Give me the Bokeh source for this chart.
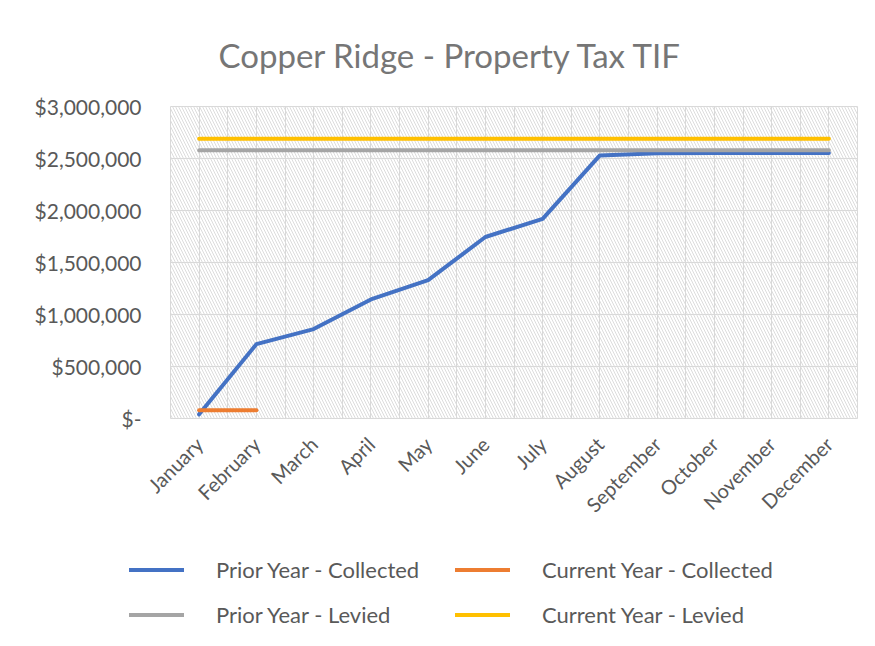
from bokeh.plotting import figure
from bokeh.layouts import column, row
from bokeh.models import (FixedTicker, BoxAnnotation, Legend, LegendItem,
                          CustomJSTickFormatter, Title)
from bokeh.embed import file_html
from bokeh.resources import INLINE
import math

months = ["January", "February", "March", "April", "May", "June", "July",
          "August", "September", "October", "November", "December"]
prior_collected = [40000, 715000, 860000, 1145000, 1330000, 1745000, 1920000,
                   2530000, 2550000, 2553000, 2553000, 2553000]
current_collected = [80000, 80000]
prior_levied = [2580000, 2580000, 2580000, 2580000, 2580000, 2580000, 2580000,
                2580000, 2580000, 2580000, 2580000, 2580000]
current_levied = [2690000, 2690000, 2690000, 2690000, 2690000, 2690000, 2690000,
                  2690000, 2690000, 2690000, 2690000, 2690000]
y_ticks = [0, 500000, 1000000, 1500000, 2000000, 2500000, 3000000]
series_names = ["Prior Year - Collected", "Current Year - Collected",
                "Prior Year - Levied", "Current Year - Levied"]
series_colors = ["#4472C4", "#ED7D31", "#A5A5A5", "#FFC000"]

FONT = "Lato"
TXT = "#595959"

xs = list(range(len(months)))

p = figure(width=867, height=530, output_backend="svg", toolbar_location=None,
           x_range=(-0.5, len(months) - 0.5), y_range=(0, 3000000),
           min_border_left=170, min_border_right=10, min_border_top=106,
           min_border_bottom=112)
p.background_fill_color = "white"
p.border_fill_color = "white"
p.outline_line_color = "#d9d9d9"

p.title = Title(text="Copper Ridge - Property Tax TIF", align="left", offset=48,
                text_font=FONT, text_font_size="33px", text_font_style="normal",
                text_color="#767676", standoff=64)

# hatched plot area background
p.add_layout(BoxAnnotation(fill_alpha=0, line_color=None, hatch_pattern="\\",
                           hatch_color="#dcdcdc", hatch_scale=6, hatch_weight=1,
                           level="image"))

# axes
p.xaxis.ticker = FixedTicker(ticks=xs)
p.xaxis.major_label_overrides = {i: m for i, m in enumerate(months)}
p.xaxis.major_label_orientation = math.pi / 4
p.xaxis.axis_line_color = None
p.xaxis.major_tick_line_color = None
p.xaxis.minor_tick_line_color = None
p.xaxis.major_label_text_font = FONT
p.xaxis.major_label_text_font_size = "20px"
p.xaxis.major_label_text_color = TXT
p.xaxis.major_label_standoff = 16

p.yaxis.ticker = FixedTicker(ticks=y_ticks)
p.yaxis.formatter = CustomJSTickFormatter(code="""
    if (tick == 0) { return '$-'; }
    return '$' + tick.toLocaleString('en-US');
""")
p.yaxis.axis_line_color = None
p.yaxis.major_tick_line_color = None
p.yaxis.minor_tick_line_color = None
p.yaxis.major_label_text_font = FONT
p.yaxis.major_label_text_font_size = "21px"
p.yaxis.major_label_text_color = TXT
p.yaxis.major_label_standoff = 23

# grids
p.xgrid.ticker = FixedTicker(ticks=[i * 0.5 - 0.5 for i in range(2 * len(months) + 1)])
p.xgrid.grid_line_color = "#d9d9d9"
p.ygrid.ticker = FixedTicker(ticks=y_ticks)
p.ygrid.grid_line_color = "#d9d9d9"

p.line(xs, prior_collected, line_color=series_colors[0], line_width=4, line_cap="round", line_join="round")
p.line(xs[:len(current_collected)], current_collected, line_color=series_colors[1], line_width=4, line_cap="round")
p.line(xs, prior_levied, line_color=series_colors[2], line_width=4, line_cap="round")
p.line(xs, current_levied, line_color=series_colors[3], line_width=4, line_cap="round")

# legend panel below the chart (swatch renderers lie outside its visible range)
lf = figure(width=867, height=110, output_backend="svg", toolbar_location=None,
            x_range=(0, 1), y_range=(0, 1), min_border=0,
            x_axis_location=None, y_axis_location=None)
lf.grid.visible = False
lf.outline_line_color = None
lf.background_fill_color = "white"
lf.border_fill_color = "white"
items = []
for name, col in zip(series_names, series_colors):
    r = lf.line([-10, -9], [-10, -10], line_color=col, line_width=4, line_cap="round")
    items.append(LegendItem(label=name, renderers=[r]))
legend = Legend(items=items, orientation="horizontal", ncols=2, location=(129, 12))
legend.label_text_font = FONT
legend.label_text_font_size = "22px"
legend.label_text_color = TXT
legend.glyph_width = 55
legend.glyph_height = 23
legend.label_height = 23
legend.label_width = 221
legend.label_standoff = 32
legend.spacing = 18
legend.padding = 0
legend.margin = 0
legend.border_line_color = None
legend.background_fill_alpha = 0
lf.add_layout(legend, "center")

layout = column(p, row(lf, spacing=0), spacing=0)
open("out.html", "w").write(file_html(layout, INLINE))
